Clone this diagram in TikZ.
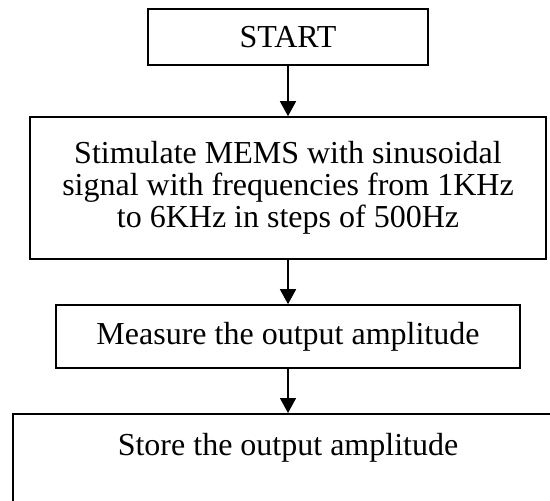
\documentclass[tikz,border=0pt]{standalone}
\usepackage{fontspec}
\setmainfont{Liberation Serif}
\usetikzlibrary{arrows.meta}

\begin{document}
\begin{tikzpicture}[x=0.5pt, y=-0.5pt,
    stepbox/.style={draw, line width=0.8pt, align=center,
      font=\fontsize{16}{16}\selectfont, inner sep=0pt},
    flowarrow/.style={line width=0.8pt, -{Triangle[width=8pt,length=7.5pt]}}]

  \clip (0,0) rectangle (550,501);

  \node[stepbox, minimum width=140pt, minimum height=28pt] (start) at (288,37) {START};
  \node[stepbox, minimum width=258pt, minimum height=71pt] (stimulate) at (288,188)
    {Stimulate MEMS with sinusoidal\\signal with frequencies from 1KHz\\to 6KHz in steps of 500Hz};
  \node[stepbox, minimum width=232pt, minimum height=31.5pt] (measure) at (288,336.5)
    {Measure the output amplitude};
  \node[stepbox, minimum width=275pt, minimum height=63pt, anchor=north] (store) at (288,413)
    {Store the output amplitude\\~\\~};

  \draw[flowarrow] (start) -- (stimulate);
  \draw[flowarrow] (stimulate) -- (measure);
  \draw[flowarrow] (measure) -- (store);

\end{tikzpicture}
\end{document}
